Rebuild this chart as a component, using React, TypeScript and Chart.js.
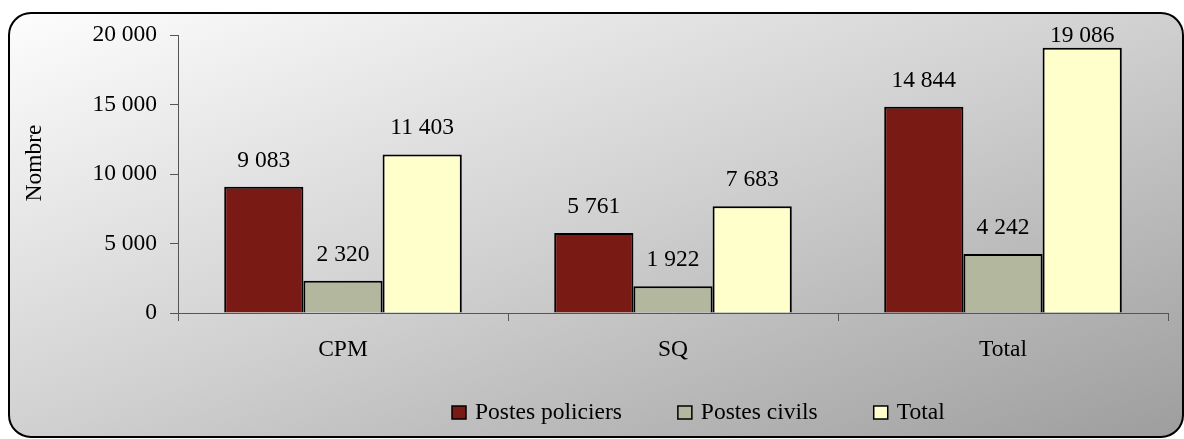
import React, { useEffect, useRef } from "react";
import { Chart, registerables } from "chart.js";

Chart.register(...registerables);

const categories = ["CPM", "SQ", "Total"];
const seriesLabels = ["Postes policiers", "Postes civils", "Total"];
const postesPoliciers = [9083, 5761, 14844];
const postesCivils = [2320, 1922, 4242];
const totals = [11403, 7683, 19086];
const seriesColors = ["#791a15", "#b2b79e", "#ffffcc"];
const yMin = 0;
const yMax = 20000;
const yStep = 5000;
const yAxisTitle = "Nombre";

const FONT_FAMILY = "'Liberation Serif', 'Times New Roman', serif";
const FONT_SIZE = 23.5;

function fmt(n: number): string {
  return String(Math.round(n)).replace(/\B(?=(\d{3})+(?!\d))/g, " ");
}

const backgroundPlugin = {
  id: "bgBox",
  beforeDraw(chart: any) {
    const ctx = chart.ctx as CanvasRenderingContext2D;
    const x = 9, y = 13, w = 1174, h = 424, r = 22;
    ctx.save();
    const g = ctx.createLinearGradient(x, y, x + 274, y + 754);
    g.addColorStop(0, "#fdfdfd");
    g.addColorStop(0.5, "#d0d0d0");
    g.addColorStop(1, "#9d9d9d");
    ctx.beginPath();
    ctx.moveTo(x + r, y);
    ctx.lineTo(x + w - r, y);
    ctx.arcTo(x + w, y, x + w, y + r, r);
    ctx.lineTo(x + w, y + h - r);
    ctx.arcTo(x + w, y + h, x + w - r, y + h, r);
    ctx.lineTo(x + r, y + h);
    ctx.arcTo(x, y + h, x, y + h - r, r);
    ctx.lineTo(x, y + r);
    ctx.arcTo(x, y, x + r, y, r);
    ctx.closePath();
    ctx.fillStyle = g;
    ctx.fill();
    ctx.lineWidth = 2;
    ctx.strokeStyle = "#000";
    ctx.stroke();
    ctx.restore();
  },
};

const labelsPlugin = {
  id: "valueLabels",
  afterDatasetsDraw(chart: any) {
    const ctx = chart.ctx as CanvasRenderingContext2D;
    const top = chart.chartArea.top;
    ctx.save();
    ctx.font = `${FONT_SIZE}px ${FONT_FAMILY}`;
    ctx.fillStyle = "#000";
    ctx.textAlign = "center";
    ctx.textBaseline = "alphabetic";
    chart.data.datasets.forEach((ds: any, di: number) => {
      const meta = chart.getDatasetMeta(di);
      meta.data.forEach((bar: any, i: number) => {
        const yy = Math.max(bar.y - 20, top + 7);
        ctx.fillText(fmt(ds.data[i]), bar.x, yy);
      });
    });
    ctx.restore();
  },
};

const decorPlugin = {
  id: "decor",
  afterDraw(chart: any) {
    const ctx = chart.ctx as CanvasRenderingContext2D;
    ctx.save();
    ctx.font = `${FONT_SIZE}px ${FONT_FAMILY}`;
    ctx.fillStyle = "#000";
    // y axis title
    ctx.save();
    ctx.translate(41, 163);
    ctx.rotate(-Math.PI / 2);
    ctx.textAlign = "center";
    ctx.textBaseline = "alphabetic";
    ctx.fillText(yAxisTitle, 0, 0);
    ctx.restore();
    // legend
    let lx = 452;
    const baseY = 419;
    chart.data.datasets.forEach((ds: any) => {
      ctx.fillStyle = ds.backgroundColor;
      ctx.fillRect(lx, baseY - 13, 14, 13);
      ctx.lineWidth = 1.5;
      ctx.strokeStyle = "#000";
      ctx.strokeRect(lx, baseY - 13, 14, 13);
      ctx.fillStyle = "#000";
      ctx.textAlign = "left";
      ctx.textBaseline = "alphabetic";
      ctx.fillText(ds.label, lx + 23, baseY);
      lx += 23 + ctx.measureText(ds.label).width + 56;
    });
    ctx.restore();
  },
};

export default function App() {
  const ref = useRef<HTMLCanvasElement | null>(null);
  useEffect(() => {
    if (!ref.current) return;
    const seriesData = [postesPoliciers, postesCivils, totals];
    const chart = new Chart(ref.current, {
      type: "bar",
      data: {
        labels: categories,
        datasets: seriesLabels.map((label, i) => ({
          label,
          data: seriesData[i],
          backgroundColor: seriesColors[i],
          borderColor: "#000",
          borderWidth: 2,
          categoryPercentage: 0.72,
          barPercentage: 1,
        })),
      },
      options: {
        responsive: false,
        animation: false,
        devicePixelRatio: 1,
        layout: { padding: { left: 0, right: 16, top: 35, bottom: 56 } },
        plugins: {
          legend: { display: false },
          tooltip: { enabled: false },
        },
        scales: {
          x: {
            grid: {
              display: true,
              drawOnChartArea: false,
              drawTicks: true,
              tickLength: 8,
              color: "#555",
              offset: true,
            },
            border: { display: true, color: "#555", width: 1 },
            ticks: {
              color: "#000",
              padding: 15,
              font: { family: FONT_FAMILY, size: FONT_SIZE },
            },
            afterFit: (s: any) => {
              s.height = 70;
            },
          },
          y: {
            min: yMin,
            max: yMax,
            grid: {
              display: true,
              drawOnChartArea: false,
              drawTicks: true,
              tickLength: 8,
              color: "#555",
            },
            border: { display: true, color: "#555", width: 1 },
            ticks: {
              stepSize: yStep,
              color: "#000",
              padding: 13,
              font: { family: FONT_FAMILY, size: FONT_SIZE },
              callback: (v: any) => fmt(Number(v)),
            },
            afterFit: (s: any) => {
              s.width = 178;
            },
          },
        },
      },
      plugins: [backgroundPlugin, labelsPlugin, decorPlugin],
    });
    return () => chart.destroy();
  }, []);

  return (
    <div style={{ position: "absolute", left: 0, top: 0, width: 1184, height: 439 }}>
      <canvas ref={ref} width={1184} height={439} style={{ display: "block" }} />
    </div>
  );
}
